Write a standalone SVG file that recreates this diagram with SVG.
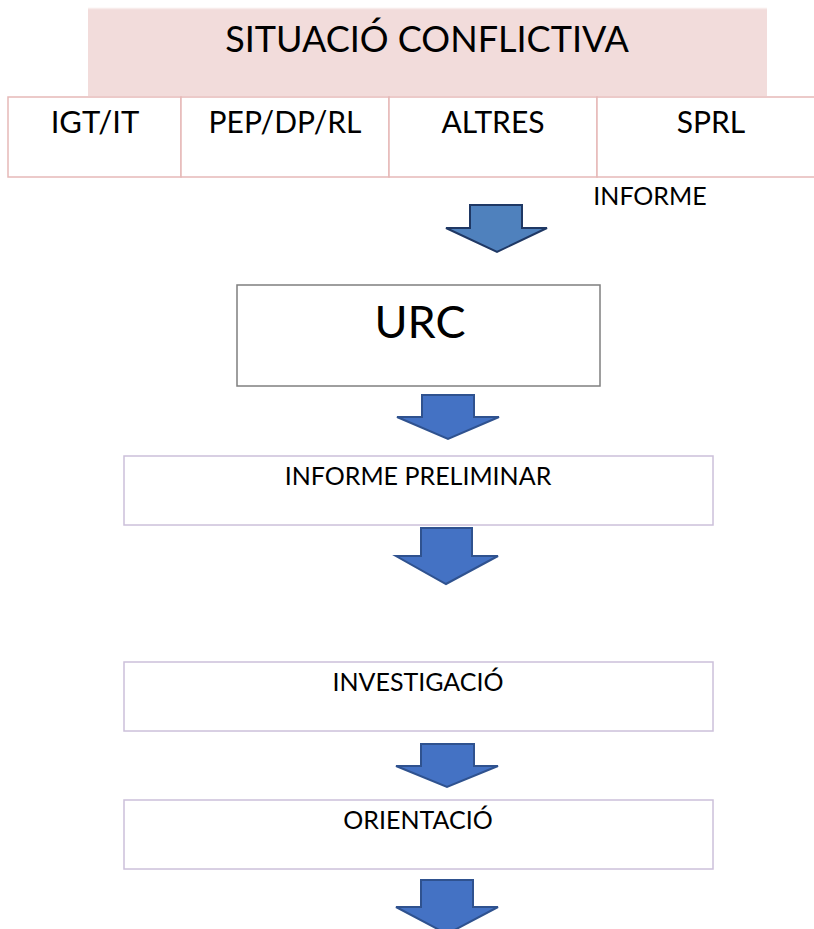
<svg xmlns="http://www.w3.org/2000/svg" width="814" height="929" viewBox="0 0 814 929">
<style>
text{font-family:Lato,"Open Sans","Liberation Sans",sans-serif;fill:#000;text-anchor:middle}
.cell{fill:#fff;stroke:#e6b9b8;stroke-width:1.5}
.box{fill:#fff;stroke:#ccc0da;stroke-width:1.5}
.arrow{fill:#4472c4;stroke:#2f528f;stroke-width:2;stroke-linejoin:miter}
</style>
<rect width="814" height="929" fill="#fff"/>
<g id="situacio">
<rect x="88" y="8" width="679" height="88" fill="#f2dcdb"/>
<line x1="88" y1="8.5" x2="767" y2="8.5" stroke="#f8eceb" stroke-width="1.5"/>
<text x="427" y="52" font-size="36">SITUACIÓ CONFLICTIVA</text>
</g>
<g id="igt">
<rect class="cell" x="8" y="97" width="173" height="80"/>
<text x="95" y="133" font-size="31">IGT/IT</text>
</g>
<g id="pep">
<rect class="cell" x="181" y="97" width="208" height="80"/>
<text x="285" y="133" font-size="30">PEP/DP/RL</text>
</g>
<g id="altres">
<rect class="cell" x="389" y="97" width="208" height="80"/>
<text x="493" y="133" font-size="30">ALTRES</text>
</g>
<g id="sprl">
<rect class="cell" x="597" y="97" width="220" height="80"/>
<text x="711" y="133" font-size="30">SPRL</text>
</g>
<g id="informe-label">
<text x="650" y="205" font-size="25">INFORME</text>
</g>
<g id="urc">
<rect x="237" y="285" width="363" height="101" fill="#fff" stroke="#7f7f7f" stroke-width="1.5"/>
<text x="420" y="338" font-size="45">URC</text>
</g>
<g id="preliminar">
<rect class="box" x="124" y="456" width="589" height="69"/>
<text x="418" y="485" font-size="25">INFORME PRELIMINAR</text>
</g>
<g id="investigacio">
<rect class="box" x="124" y="662" width="589" height="69"/>
<text x="418" y="691" font-size="25">INVESTIGACIÓ</text>
</g>
<g id="orientacio">
<rect class="box" x="124" y="800" width="589" height="69"/>
<text x="418" y="829" font-size="25">ORIENTACIÓ</text>
</g>
<g id="connectors">
<path d="M470,205 H522 V228 H547 L497,252 L446,228 H470 Z" fill="#4f81bd" stroke="#1f3864" stroke-width="2"/>
<path class="arrow" d="M422,395 H474 V417 H499 L448,439 L397,417 H422 Z"/>
<path class="arrow" d="M421,528 H472 V556 H498 L446,584 L396,556 H421 Z"/>
<path class="arrow" d="M421,744 H474 V766 H498 L447,787 L396,766 H421 Z"/>
<path class="arrow" d="M421,880 H473 V907 H498 L447,934 L396,907 H421 Z"/>
</g>
</svg>
